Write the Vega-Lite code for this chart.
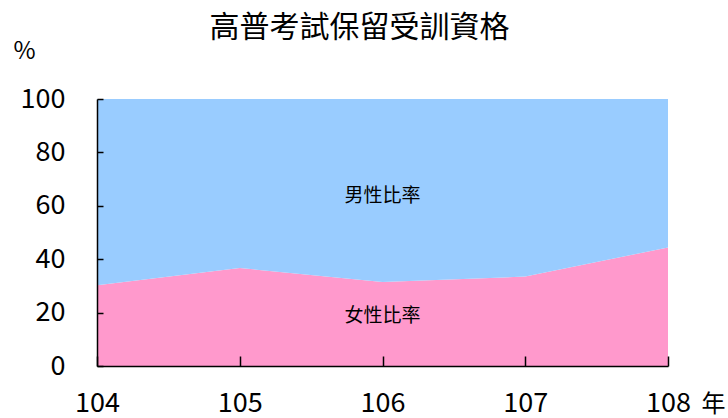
{
  "$schema": "https://vega.github.io/schema/vega-lite/v6.json",
  "width": 571,
  "height": 267,
  "autosize": "none",
  "padding": {"left": 97, "top": 99, "right": 60, "bottom": 52},
  "background": "white",
  "title": {
    "text": "高普考試保留受訓資格",
    "font": "Noto Sans CJK TC",
    "fontSize": 30,
    "fontWeight": "normal",
    "color": "black",
    "anchor": "middle",
    "dx": -23,
    "baseline": "bottom",
    "offset": -34
  },
  "datasets": {
    "ratio": [
      {"year": 104, "sex": "女性", "value": 30.2},
      {"year": 105, "sex": "女性", "value": 36.7},
      {"year": 106, "sex": "女性", "value": 31.5},
      {"year": 107, "sex": "女性", "value": 33.5},
      {"year": 108, "sex": "女性", "value": 44.4},
      {"year": 104, "sex": "男性", "value": 69.8},
      {"year": 105, "sex": "男性", "value": 63.3},
      {"year": 106, "sex": "男性", "value": 68.5},
      {"year": 107, "sex": "男性", "value": 66.5},
      {"year": 108, "sex": "男性", "value": 55.6}
    ],
    "labels": [
      {"year": 106, "value": 63.6, "label": "男性比率"},
      {"year": 106, "value": 18.9, "label": "女性比率"}
    ]
  },
  "layer": [
    {
      "data": {"name": "ratio"},
      "mark": {"type": "area", "opacity": 1},
      "encoding": {
        "x": {
          "field": "year",
          "type": "quantitative",
          "scale": {"domain": [104, 108], "nice": false, "zero": false},
          "axis": {
            "values": [104, 105, 106, 107, 108],
            "format": "d",
            "title": "年",
            "titleX": 616,
            "titleY": 38,
            "titleAlign": "center",
            "titleBaseline": "middle",
            "titleFontSize": 24,
            "titleFont": "Noto Sans CJK TC",
            "titleFontWeight": "normal",
            "titleColor": "black",
            "tickSize": -10,
            "labelPadding": 47,
            "labelBaseline": "middle",
            "labelFlush": false,
            "zindex": 1
          }
        },
        "y": {
          "field": "value",
          "type": "quantitative",
          "stack": "zero",
          "scale": {"domain": [0, 100], "nice": false},
          "axis": {
            "values": [0, 20, 40, 60, 80, 100],
            "title": "%",
            "titleAngle": 0,
            "titleX": -73,
            "titleY": -48,
            "titleAlign": "center",
            "titleBaseline": "middle",
            "titleFontSize": 24,
            "titleFont": "Noto Sans CJK TC",
            "titleFontWeight": "normal",
            "titleColor": "black",
            "tickSize": -6,
            "labelPadding": 38,
            "zindex": 1
          }
        },
        "color": {
          "field": "sex",
          "type": "nominal",
          "scale": {"domain": ["女性", "男性"], "range": ["#FF99CC", "#99CCFF"]},
          "legend": null
        },
        "order": {"field": "sex", "sort": "ascending"}
      }
    },
    {
      "mark": {"type": "rule", "color": "#999999", "strokeWidth": 1.5},
      "encoding": {"y": {"datum": 100}}
    },
    {
      "data": {"name": "labels"},
      "mark": {"type": "text", "font": "Noto Sans CJK TC", "fontSize": 19, "color": "black", "align": "center", "baseline": "middle"},
      "encoding": {
        "x": {"field": "year", "type": "quantitative"},
        "y": {"field": "value", "type": "quantitative"},
        "text": {"field": "label"}
      }
    }
  ],
  "config": {
    "view": {"stroke": null},
    "axis": {
      "grid": false,
      "domainColor": "black",
      "domainWidth": 1.5,
      "tickColor": "black",
      "tickWidth": 1.5,
      "labelFont": "Noto Sans CJK TC",
      "labelFontSize": 27,
      "labelColor": "black"
    }
  }
}
